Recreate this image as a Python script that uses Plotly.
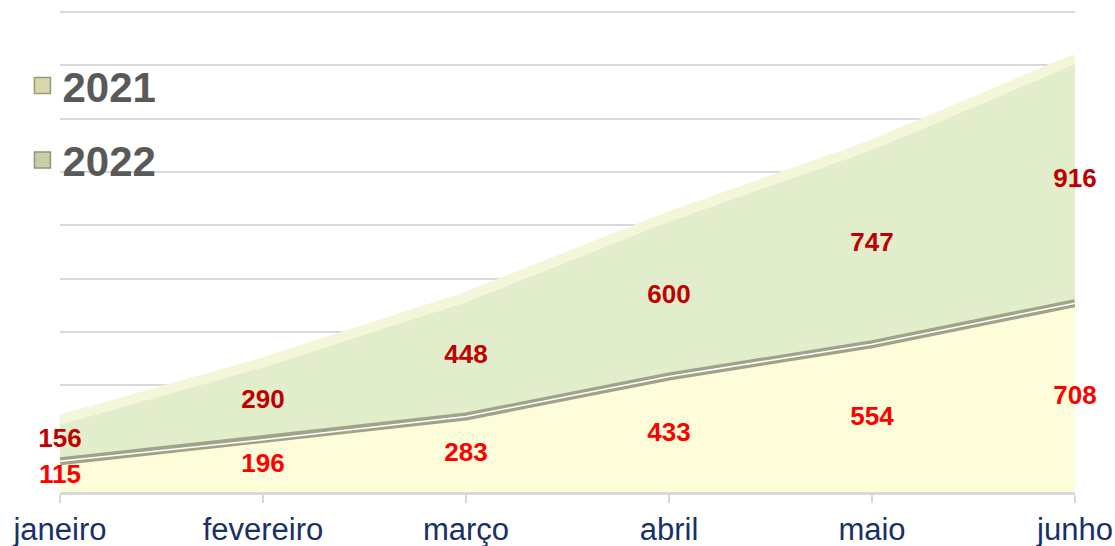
import plotly.graph_objects as go

months = ["janeiro", "fevereiro", "março", "abril", "maio", "junho"]
v2021 = [115, 196, 283, 433, 554, 708]
v2022 = [156, 290, 448, 600, 747, 916]
grid_vals = [200, 400, 600, 800, 1000, 1200, 1400, 1600, 1800]

top2022 = [a + b for a, b in zip(v2021, v2022)]
mid2021 = [a / 2 for a in v2021]
mid2022 = [a + b / 2 for a, b in zip(v2021, v2022)]

fig = go.Figure()

# areas (stacked)
fig.add_trace(go.Scatter(
    x=months, y=v2021, mode="lines", fill="tozeroy",
    fillcolor="#FDFDD9", line=dict(color="#9FA488", width=8),
    showlegend=False, hoverinfo="skip"))
fig.add_trace(go.Scatter(
    x=months, y=top2022, mode="lines", fill="tonexty",
    fillcolor="#E2EDCB", line=dict(color="#F3F6D9", width=10),
    showlegend=False, hoverinfo="skip"))
# light highlight along the boundary
fig.add_trace(go.Scatter(
    x=months, y=v2021, mode="lines",
    line=dict(color="#FFFFFF", width=1.5),
    showlegend=False, hoverinfo="skip"))

# labels
fig.add_trace(go.Scatter(
    x=months, y=mid2021, mode="text", text=[str(v) for v in v2021],
    textfont=dict(family="Liberation Sans, Arial", size=26, color="#FF0000", weight="bold"),
    showlegend=False, hoverinfo="skip", cliponaxis=False))
fig.add_trace(go.Scatter(
    x=months, y=mid2022, mode="text", text=[str(v) for v in v2022],
    textfont=dict(family="Liberation Sans, Arial", size=26, color="#C00000", weight="bold"),
    showlegend=False, hoverinfo="skip", cliponaxis=False))

# legend entries
fig.add_trace(go.Scatter(
    x=[None], y=[None], mode="markers", name="2021", legendgroup="a",
    marker=dict(symbol="square", size=20, color="#D9D8AA", line=dict(color="#9A9A70", width=1.5))))
fig.add_trace(go.Scatter(
    x=[None], y=[None], mode="markers", name="2022", legendgroup="b",
    marker=dict(symbol="square", size=20, color="#C8CFA8", line=dict(color="#8E9676", width=1.5))))

fig.update_layout(
    width=1115, height=546,
    margin=dict(l=60, r=40, t=7, b=54, autoexpand=False),
    paper_bgcolor="white", plot_bgcolor="white",
    showlegend=True,
    legend=dict(x=-0.037, y=0.908, xanchor="left", yanchor="top",
                font=dict(family="Liberation Sans, Arial", size=42, color="#595959", weight="bold"),
                tracegroupgap=17, itemsizing="trace", bgcolor="rgba(0,0,0,0)"),
    xaxis=dict(range=[0, 5], showgrid=False, showline=True, linecolor="#D9D9D9", linewidth=3,
               ticks="outside", ticklen=8, tickcolor="#D9D9D9", tickwidth=2,
               tickfont=dict(family="Liberation Sans, Arial", size=31, color="#17306A"),
               zeroline=False, automargin=False),
    yaxis=dict(range=[0, 1818], tickvals=grid_vals,
               showticklabels=False, showgrid=True,
               gridcolor="#D9D9D9", gridwidth=2, zeroline=False, showline=False, automargin=False),
)

fig.write_html("out.html",
               config={"displayModeBar": False},
               post_script="document.body.style.margin='0';document.body.style.overflow='hidden';")
